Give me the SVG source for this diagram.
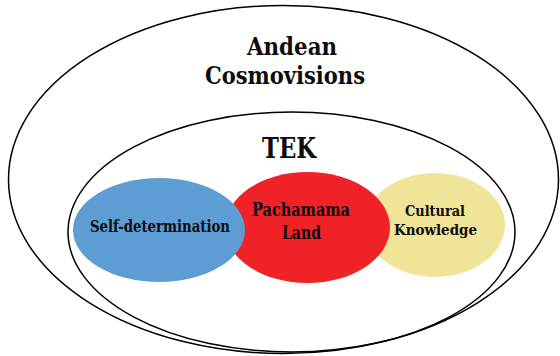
<svg xmlns="http://www.w3.org/2000/svg" width="560" height="356" viewBox="0 0 560 356">
<style>
.ring{fill:none;stroke:#000;stroke-width:1.5}
.t{font-family:"DejaVu Serif","Liberation Serif",serif;font-weight:bold;fill:#0d0d0d;text-anchor:middle}
</style>
<rect width="560" height="356" fill="#fff"/>
<g id="andean-cosmovisions">
<ellipse class="ring" cx="283.5" cy="179.5" rx="275" ry="174"/>
<text class="t" x="292" y="55" font-size="23.5" textLength="90" lengthAdjust="spacingAndGlyphs">Andean</text>
<text class="t" x="285" y="84" font-size="23.5" textLength="160" lengthAdjust="spacingAndGlyphs">Cosmovisions</text>
</g>
<g id="tek">
<ellipse class="ring" cx="291.5" cy="232" rx="223.5" ry="120"/>
<text class="t" x="289" y="158" font-size="27" textLength="54" lengthAdjust="spacingAndGlyphs">TEK</text>
</g>
<g id="cultural-knowledge">
<ellipse cx="435" cy="225" rx="70" ry="52" fill="#F0E499"/>
<text class="t" x="435" y="216" font-size="15.5" textLength="60" lengthAdjust="spacingAndGlyphs">Cultural</text>
<text class="t" x="435.5" y="235" font-size="15.5" textLength="83" lengthAdjust="spacingAndGlyphs">Knowledge</text>
</g>
<g id="pachamama-land">
<ellipse cx="307.5" cy="227.5" rx="82.5" ry="55.5" fill="#EE2227"/>
<text class="t" x="301" y="216" font-size="18" textLength="98" lengthAdjust="spacingAndGlyphs">Pachamama</text>
<text class="t" x="301.5" y="239" font-size="18" textLength="39" lengthAdjust="spacingAndGlyphs">Land</text>
</g>
<g id="self-determination">
<ellipse cx="159" cy="230" rx="86" ry="52" fill="#5E9CD4"/>
<text class="t" x="160" y="232" font-size="16" textLength="140" lengthAdjust="spacingAndGlyphs">Self-determination</text>
</g>
<g id="connectors"></g>
</svg>
